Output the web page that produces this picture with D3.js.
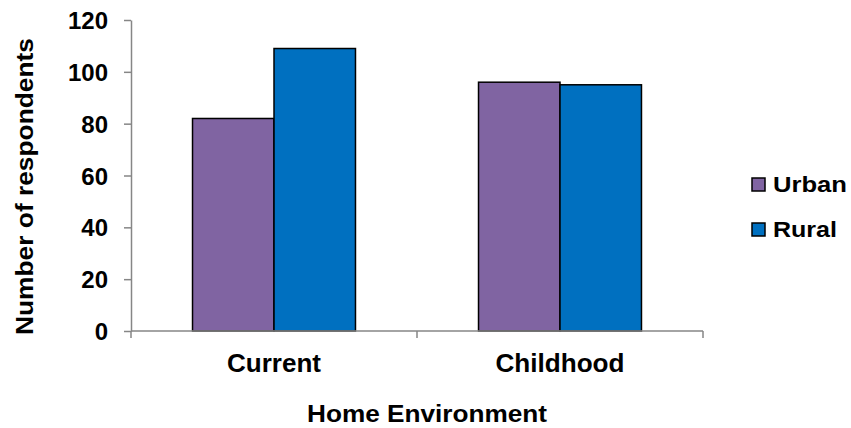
<!DOCTYPE html>
<html>
<head>
<meta charset="utf-8">
<script src="https://cdn.jsdelivr.net/npm/d3@7"></script>
<style>
  html, body { margin: 0; padding: 0; background: #fff; }
  svg { display: block; }
  text { font-family: "Liberation Sans", Arial, sans-serif; font-weight: bold; fill: #000; }
</style>
</head>
<body>
<svg id="chart" width="851" height="428"></svg>
<script>
// Respondents by home environment, split by setting
const categories = ["Current", "Childhood"];
const seriesNames = ["Urban", "Rural"];
const urbanValues = [82, 96];
const ruralValues = [109, 95];
const yTicks = [0, 20, 40, 60, 80, 100, 120];
const seriesColors = ["#8064A2", "#0070C0"];

const svg = d3.select("#chart");
const plot = { left: 131, right: 703, top: 20, bottom: 331 };

const y = d3.scaleLinear().domain([0, 120]).range([plot.bottom, plot.top]);
const x0 = d3.scaleBand().domain(categories).range([plot.left, plot.right]).paddingInner(0).paddingOuter(0);
const x1 = d3.scaleBand().domain(seriesNames).range([0, x0.bandwidth()]).paddingInner(0).paddingOuter(0.755);
const color = d3.scaleOrdinal().domain(seriesNames).range(seriesColors);

const rows = categories.map((c, i) => ({ category: c, values: [
  { series: "Urban", value: urbanValues[i] },
  { series: "Rural", value: ruralValues[i] }
]}));

// Bars
const groups = svg.append("g").selectAll("g").data(rows).join("g")
  .attr("transform", d => `translate(${x0(d.category)},0)`);
groups.selectAll("rect").data(d => d.values).join("rect")
  .attr("x", d => x1(d.series))
  .attr("y", d => y(d.value))
  .attr("width", x1.bandwidth())
  .attr("height", d => y(0) - y(d.value))
  .attr("fill", d => color(d.series))
  .attr("stroke", "#000")
  .attr("stroke-width", 1.5);

// Y axis
const yAxis = svg.append("g").attr("transform", `translate(${plot.left},0)`)
  .call(d3.axisLeft(y).tickValues(yTicks).tickSize(7).tickSizeOuter(0).tickPadding(15));
yAxis.select(".domain").attr("stroke", "#868686").attr("stroke-width", 1.5);
yAxis.selectAll(".tick line").attr("stroke", "#868686").attr("stroke-width", 1.5);
yAxis.selectAll(".tick text").attr("font-size", 24).attr("fill", "#000")
  .attr("font-family", "Liberation Sans, Arial, sans-serif").attr("font-weight", "bold")
  .attr("dy", "0.36em").attr("x", -23);

// X axis: ticks sit on category boundaries
const boundaries = [plot.left, ...categories.map(c => x0(c) + x0.bandwidth())];
const xAxis = svg.append("g");
xAxis.append("line")
  .attr("x1", plot.left).attr("x2", plot.right)
  .attr("y1", y(0)).attr("y2", y(0))
  .attr("stroke", "#868686").attr("stroke-width", 1.5);
xAxis.selectAll("line.tick").data(boundaries).join("line")
  .attr("class", "tick")
  .attr("x1", d => d).attr("x2", d => d)
  .attr("y1", y(0)).attr("y2", y(0) + 7)
  .attr("stroke", "#868686").attr("stroke-width", 1.5);

const catWidths = { "Current": 94, "Childhood": 129 };
xAxis.selectAll("text").data(categories).join("text")
  .attr("x", d => x0(d) + x0.bandwidth() / 2)
  .attr("y", 372)
  .attr("text-anchor", "middle")
  .attr("font-size", 26)
  .attr("textLength", d => catWidths[d])
  .attr("lengthAdjust", "spacingAndGlyphs")
  .text(d => d);

// Axis titles
svg.append("text")
  .attr("x", 427)
  .attr("y", 421.5)
  .attr("text-anchor", "middle")
  .attr("font-size", 24)
  .attr("textLength", 240)
  .attr("lengthAdjust", "spacingAndGlyphs")
  .text("Home Environment");

svg.append("text")
  .attr("transform", "translate(33,186.5) rotate(-90)")
  .attr("text-anchor", "middle")
  .attr("font-size", 23)
  .attr("textLength", 297)
  .attr("lengthAdjust", "spacingAndGlyphs")
  .text("Number of respondents");

// Legend
const legendWidths = { "Urban": 74, "Rural": 64 };
const legend = svg.append("g").selectAll("g").data(seriesNames).join("g")
  .attr("transform", (d, i) => `translate(752,${178 + i * 45})`);
legend.append("rect")
  .attr("width", 13).attr("height", 13)
  .attr("fill", d => color(d))
  .attr("stroke", "#000").attr("stroke-width", 1.5);
legend.append("text")
  .attr("x", 21).attr("y", 13.5)
  .attr("font-size", 22)
  .attr("textLength", d => legendWidths[d])
  .attr("lengthAdjust", "spacingAndGlyphs")
  .text(d => d);
</script>
</body>
</html>
